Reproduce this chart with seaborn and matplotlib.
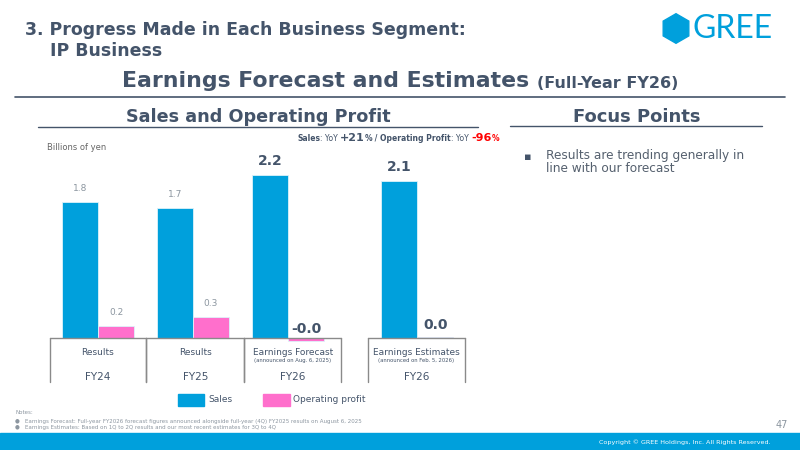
import numpy as np
import pandas as pd
import matplotlib
matplotlib.use("Agg")
import matplotlib.pyplot as plt
from matplotlib.patches import Rectangle, RegularPolygon
from matplotlib.lines import Line2D
import seaborn as sns

# data (billions of yen)
periods = ["FY24", "FY25", "FY26", "FY26"]
kinds = ["Results", "Results", "Earnings Forecast", "Earnings Estimates"]
notes = ["", "", "(announced on Aug. 6, 2025)", "(announced on Feb. 5, 2026)"]
positions = [0, 1, 2, 3.36]
sales = [1.84, 1.76, 2.20, 2.12]
op_profit = [0.16, 0.28, -0.04, 0.015]
sales_lbl = ["1.8", "1.7", "2.2", "2.1"]
op_lbl = ["0.2", "0.3", "-0.0", "0.0"]

BLUE = "#00A0DC"
PINK = "#FF6FCC"
SLATE = "#44546A"
GREY = "#8C96A0"

sns.set_theme(style="white")
plt.rcParams["font.family"] = ["DejaVu Sans"]

df = pd.DataFrame({
    "pos": positions * 2,
    "value": sales + op_profit,
    "series": ["Sales"] * 4 + ["Operating profit"] * 4,
})

fig = plt.figure(figsize=(8, 4.5), dpi=100)
fx = lambda px: px / 800
fy = lambda py: 1 - py / 450

# ---- chart axes
ax = fig.add_axes([fx(50), fy(345), fx(415), 205 / 450])
sns.barplot(data=df, x="pos", y="value", hue="series", native_scale=True,
            palette=[BLUE, PINK], saturation=1, width=0.76, edgecolor="#DDF2FA",
            linewidth=0.6, legend=False, ax=ax)
ax.set_xlim(-0.505, 3.863)
ax.set_ylim(-0.0946, 2.675)
ax.axis("off")

bw = 0.38
for i, p in enumerate(positions):
    fy26 = periods[i] == "FY26"
    kw = dict(color=SLATE, fontsize=10, fontweight="bold") if fy26 else dict(color=GREY, fontsize=6.5)
    ax.text(p - bw / 2, sales[i] + (0.09 if fy26 else 0.12), sales_lbl[i],
            ha="center", va="bottom", **kw)
    off = 0.03 if op_profit[i] < 0 else (0.07 if fy26 else 0.12)
    ax.text(p + bw / 2, max(op_profit[i], 0) + off, op_lbl[i],
            ha="center", va="bottom", **kw)

# table below the bars
lc = "#8A8A8A"
boxes = [(-0.51, 0.51), (0.51, 1.54), (1.54, 2.56), (2.84, 3.86)]
for (l, r) in boxes:
    ax.plot([l, r], [0, 0], color=lc, lw=1.0, clip_on=False)
    for xx in (l, r):
        ax.plot([xx, xx], [0, -0.6], color=lc, lw=1.0, clip_on=False)
for i, p in enumerate(positions):
    cx = (boxes[i][0] + boxes[i][1]) / 2
    ax.text(cx, -0.19, kinds[i], ha="center", va="center", fontsize=6.5, color=SLATE)
    if notes[i]:
        ax.text(cx, -0.31, notes[i], ha="center", va="center", fontsize=3.8, color=SLATE)
    ax.text(cx, -0.53, periods[i], ha="center", va="center", fontsize=7.5, color=SLATE)

# legend
fig.patches.append(Rectangle((fx(178), fy(406)), fx(26), 12 / 450, color=BLUE, transform=fig.transFigure))
fig.text(fx(208), fy(400), "Sales", fontsize=6.5, color=SLATE, va="center")
fig.patches.append(Rectangle((fx(263), fy(406)), fx(27), 12 / 450, color=PINK, transform=fig.transFigure))
fig.text(fx(293), fy(400), "Operating profit", fontsize=6.5, color=SLATE, va="center")

# ---- slide header
fig.text(fx(25), fy(30), "3. Progress Made in Each Business Segment:", fontsize=12.5,
         fontweight="bold", color=SLATE, va="center")
fig.text(fx(50), fy(51), "IP Business", fontsize=12.5, fontweight="bold", color=SLATE, va="center")
t = fig.text(fx(122), fy(87), "Earnings Forecast and Estimates ", fontsize=15.8,
             fontweight="bold", color=SLATE, va="baseline")
fig.add_artist(plt.Annotation("(Full-Year FY26)", xy=(1, 0), xycoords=t, xytext=(0, 0),
                              textcoords="offset points", fontsize=11.5, fontweight="bold",
                              color=SLATE, va="bottom"))
fig.add_artist(Line2D([fx(15), fx(785)], [fy(97), fy(97)], color=SLATE, lw=1.2, transform=fig.transFigure))

# logo
fig.patches.append(RegularPolygon((6.76, 4.5 - 0.285), 6, radius=0.148, orientation=0,
                                  color=BLUE, transform=fig.dpi_scale_trans))
fig.text(fx(692), fy(29), "GREE", fontsize=23, color=BLUE, va="center", family="Lato")

# section headers
fig.text(fx(258), fy(117), "Sales and Operating Profit", fontsize=12.7, fontweight="bold",
         color=SLATE, ha="center", va="center")
fig.add_artist(Line2D([fx(38), fx(478)], [fy(127), fy(127)], color=SLATE, lw=1.0, transform=fig.transFigure))
fig.text(fx(637), fy(117), "Focus Points", fontsize=13, fontweight="bold",
         color=SLATE, ha="center", va="center")
fig.add_artist(Line2D([fx(510), fx(762)], [fy(126), fy(126)], color=SLATE, lw=1.0, transform=fig.transFigure))

# YoY line, built from pieces
pieces = [("Sales", SLATE, 5.5, "bold"), (": YoY ", SLATE, 5.5, "normal"),
          ("+21", SLATE, 8, "bold"), ("%", SLATE, 5.5, "bold"),
          (" / Operating Profit", SLATE, 5.5, "bold"), (": YoY ", SLATE, 5.5, "normal"),
          ("-96", "#FF0000", 8, "bold"), ("%", "#FF0000", 5.5, "bold")]
prev = fig.text(fx(297), fy(141), pieces[0][0], color=pieces[0][1], fontsize=pieces[0][2],
                fontweight=pieces[0][3], va="baseline")
for s, c, fs, fw in pieces[1:]:
    prev = fig.add_artist(plt.Annotation(s, xy=(1, 0), xycoords=prev, color=c, fontsize=fs,
                                         fontweight=fw, va="bottom"))

fig.text(fx(47), fy(148), "Billions of yen", fontsize=6, color="#666666", va="center")

# focus point bullet
fig.text(fx(524), fy(157), "\u25aa", fontsize=8, color=SLATE, va="center")
fig.text(fx(546), fy(162), "Results are trending generally in\nline with our forecast",
         fontsize=8.75, color="#55606E", va="center", linespacing=1.1)

# notes
fig.text(fx(15), fy(413), "Notes:", fontsize=4, color=GREY, va="center")
fig.text(fx(15), fy(421), "\u25cf   Earnings Forecast: Full-year FY2026 forecast figures announced alongside full-year (4Q) FY2025 results on August 6, 2025",
         fontsize=4, color=GREY, va="center")
fig.text(fx(15), fy(428), "\u25cf   Earnings Estimates: Based on 1Q to 2Q results and our most recent estimates for 3Q to 4Q",
         fontsize=4, color=GREY, va="center")
fig.text(fx(788), fy(425), "47", fontsize=7, color=GREY, ha="right", va="center")

# footer band
fig.patches.append(Rectangle((0, 0), 1, 17 / 450, color=BLUE, transform=fig.transFigure))
fig.text(fx(771), fy(442), "Copyright \u00a9 GREE Holdings, Inc. All Rights Reserved.",
         fontsize=4.6, color="white", ha="right", va="center")

fig.savefig("out.png", dpi=100)
